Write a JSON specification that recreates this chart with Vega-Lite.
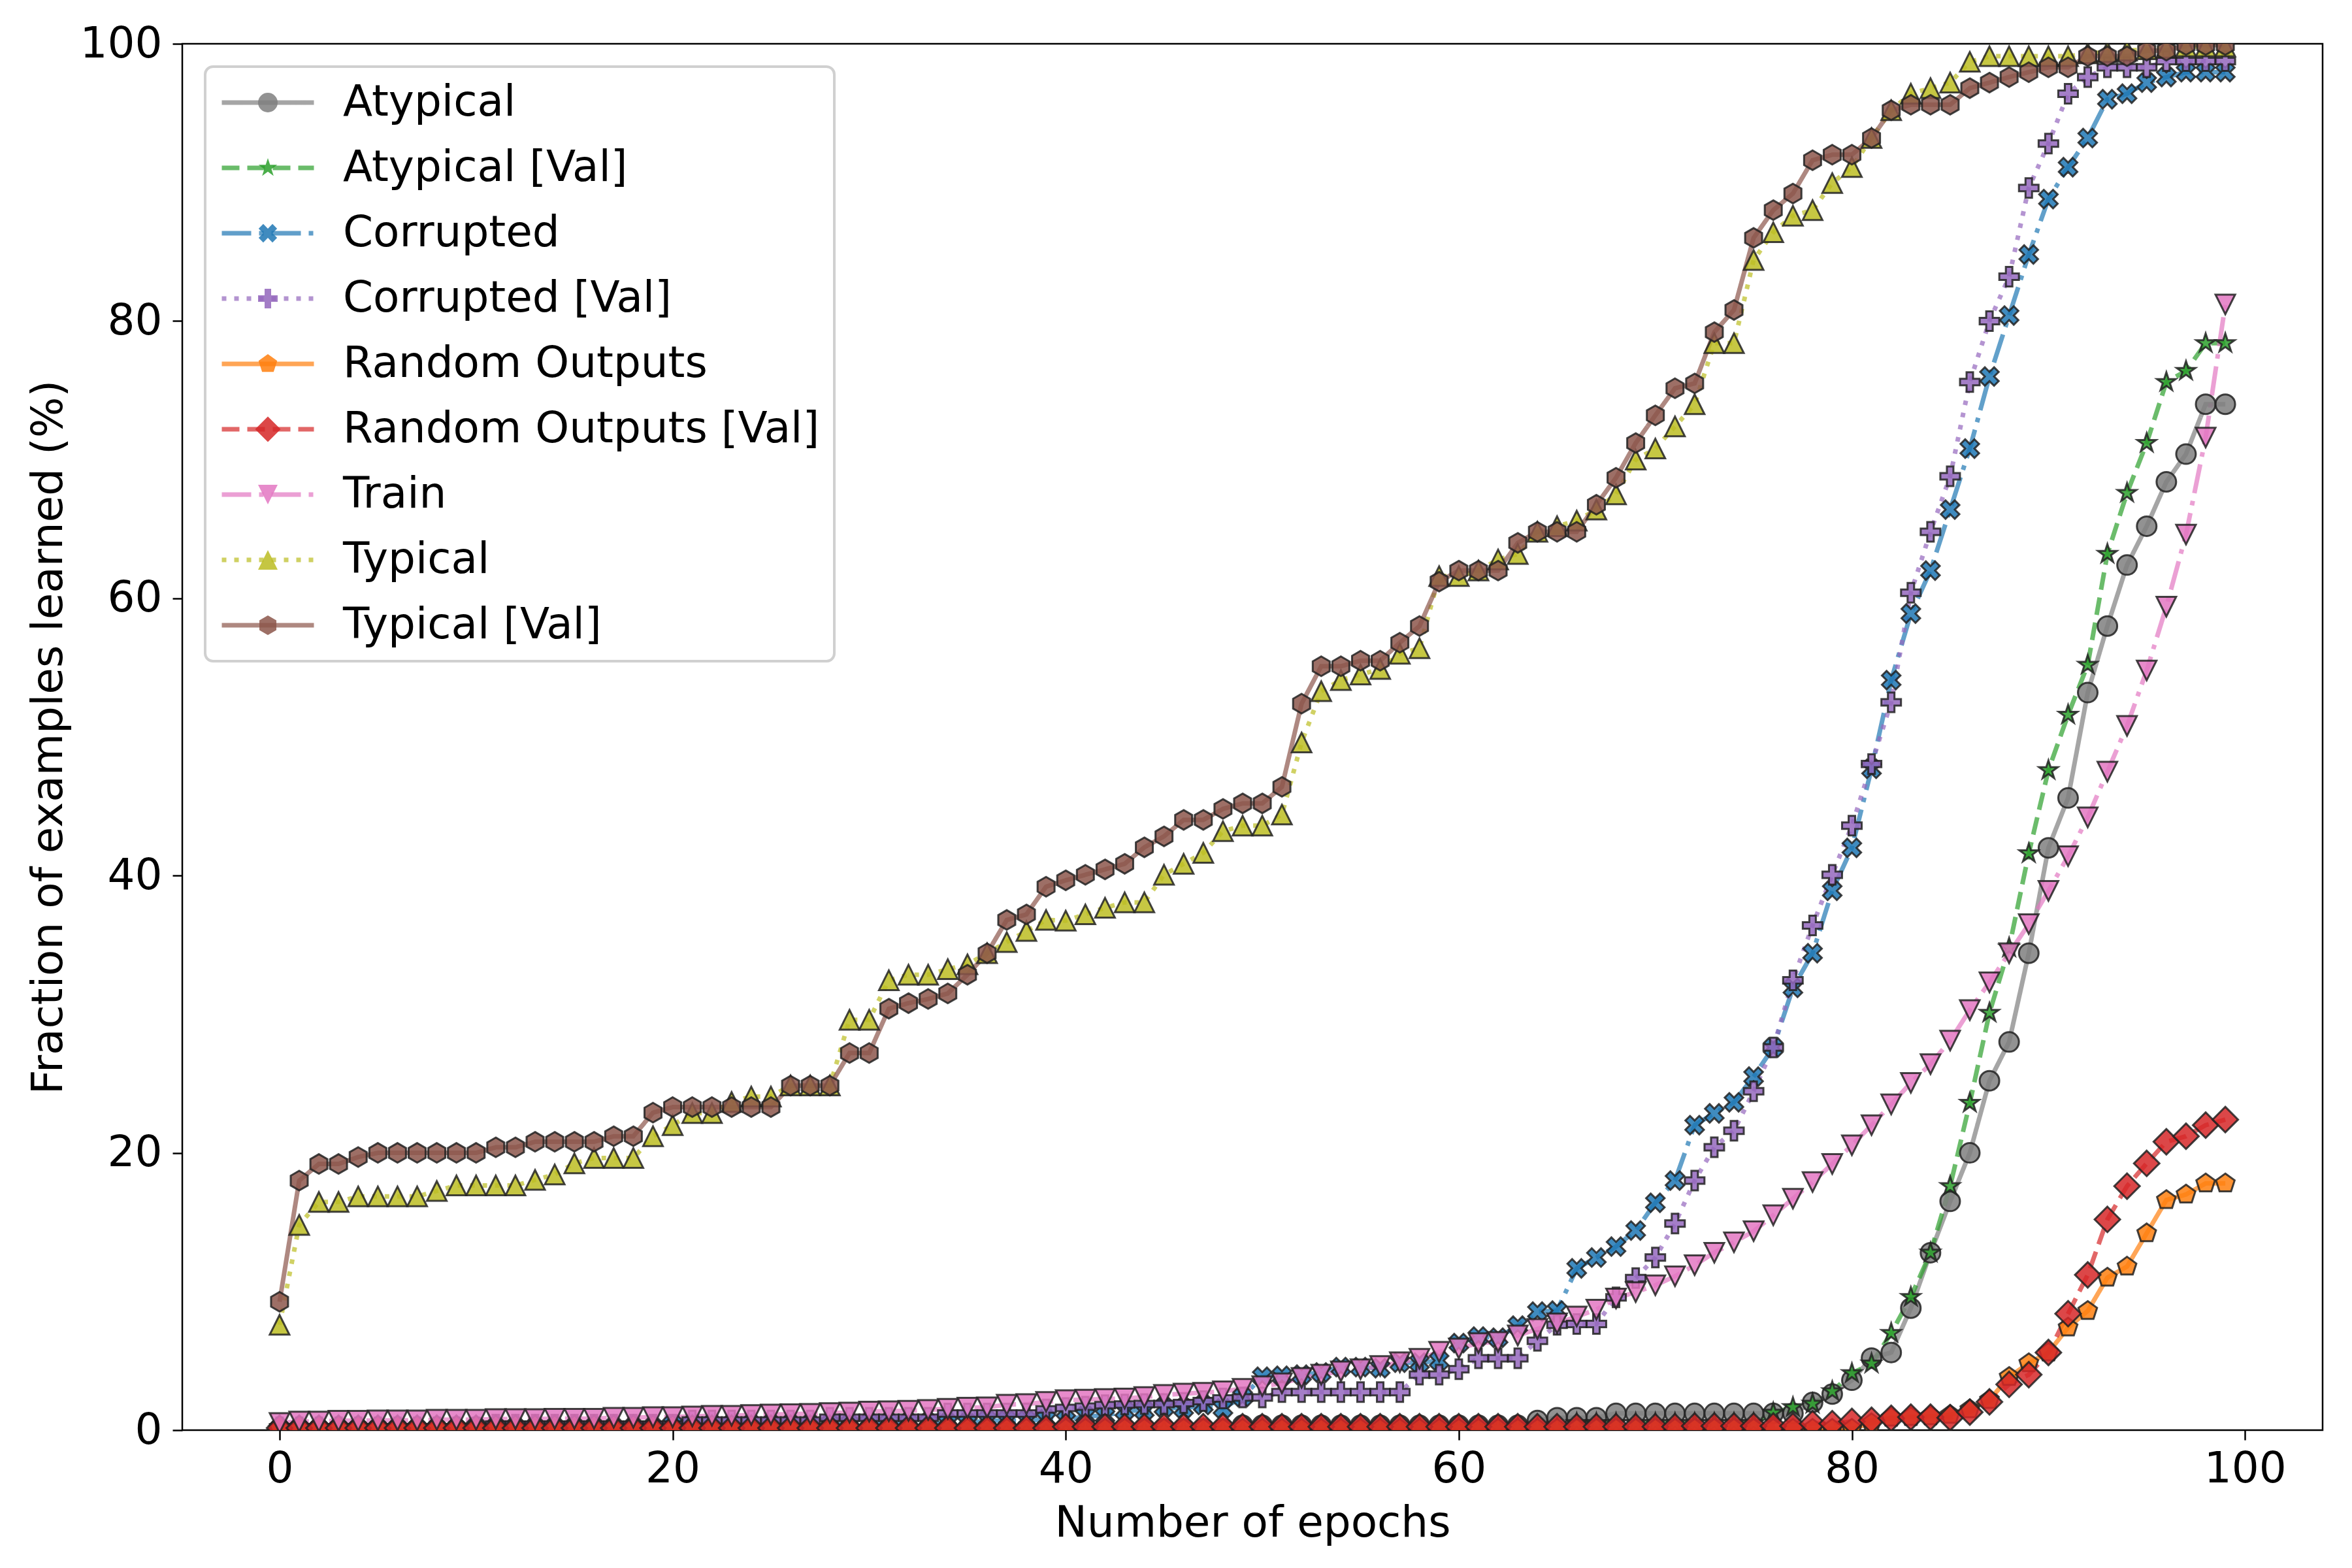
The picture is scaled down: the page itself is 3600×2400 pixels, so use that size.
{
  "$schema": "https://vega.github.io/schema/vega-lite/v6.json",
  "width": 3276,
  "height": 2122,
  "autosize": {"type": "none"},
  "padding": {"left": 279, "top": 67, "right": 45, "bottom": 211},
  "background": "white",
  "config": {
    "view": {"stroke": "black", "strokeWidth": 2.5},
    "font": "DejaVu Sans",
    "axis": {
      "domain": false, "grid": false, "tickColor": "black", "tickWidth": 2.5, "tickSize": 15,
      "labelFont": "DejaVu Sans", "labelFontSize": 66, "labelColor": "black",
      "titleFont": "DejaVu Sans", "titleFontSize": 66, "titleFontWeight": "normal", "titleColor": "black"
    }
  },
  "data": {
    "values": [
      {"s":"Atypical","e":0,"v":0.1},{"s":"Atypical","e":1,"v":0.1},{"s":"Atypical","e":2,"v":0.1},{"s":"Atypical","e":3,"v":0.1},{"s":"Atypical","e":4,"v":0.1},{"s":"Atypical","e":5,"v":0.1},{"s":"Atypical","e":6,"v":0.1},{"s":"Atypical","e":7,"v":0.1},{"s":"Atypical","e":8,"v":0.1},{"s":"Atypical","e":9,"v":0.1},
      {"s":"Atypical","e":10,"v":0.1},{"s":"Atypical","e":11,"v":0.1},{"s":"Atypical","e":12,"v":0.1},{"s":"Atypical","e":13,"v":0.1},{"s":"Atypical","e":14,"v":0.1},{"s":"Atypical","e":15,"v":0.1},{"s":"Atypical","e":16,"v":0.1},{"s":"Atypical","e":17,"v":0.1},{"s":"Atypical","e":18,"v":0.1},{"s":"Atypical","e":19,"v":0.1},
      {"s":"Atypical","e":20,"v":0.1},{"s":"Atypical","e":21,"v":0.1},{"s":"Atypical","e":22,"v":0.1},{"s":"Atypical","e":23,"v":0.1},{"s":"Atypical","e":24,"v":0.1},{"s":"Atypical","e":25,"v":0.1},{"s":"Atypical","e":26,"v":0.1},{"s":"Atypical","e":27,"v":0.1},{"s":"Atypical","e":28,"v":0.1},{"s":"Atypical","e":29,"v":0.1},
      {"s":"Atypical","e":30,"v":0.1},{"s":"Atypical","e":31,"v":0.1},{"s":"Atypical","e":32,"v":0.1},{"s":"Atypical","e":33,"v":0.1},{"s":"Atypical","e":34,"v":0.1},{"s":"Atypical","e":35,"v":0.1},{"s":"Atypical","e":36,"v":0.1},{"s":"Atypical","e":37,"v":0.1},{"s":"Atypical","e":38,"v":0.1},{"s":"Atypical","e":39,"v":0.1},
      {"s":"Atypical","e":40,"v":0.1},{"s":"Atypical","e":41,"v":0.1},{"s":"Atypical","e":42,"v":0.1},{"s":"Atypical","e":43,"v":0.1},{"s":"Atypical","e":44,"v":0.1},{"s":"Atypical","e":45,"v":0.1},{"s":"Atypical","e":46,"v":0.1},{"s":"Atypical","e":47,"v":0.1},{"s":"Atypical","e":48,"v":0.1},{"s":"Atypical","e":49,"v":0.35},
      {"s":"Atypical","e":50,"v":0.35},{"s":"Atypical","e":51,"v":0.35},{"s":"Atypical","e":52,"v":0.35},{"s":"Atypical","e":53,"v":0.35},{"s":"Atypical","e":54,"v":0.35},{"s":"Atypical","e":55,"v":0.35},{"s":"Atypical","e":56,"v":0.35},{"s":"Atypical","e":57,"v":0.35},{"s":"Atypical","e":58,"v":0.35},{"s":"Atypical","e":59,"v":0.35},
      {"s":"Atypical","e":60,"v":0.35},{"s":"Atypical","e":61,"v":0.35},{"s":"Atypical","e":62,"v":0.35},{"s":"Atypical","e":63,"v":0.35},{"s":"Atypical","e":64,"v":0.69},{"s":"Atypical","e":65,"v":0.9},{"s":"Atypical","e":66,"v":0.9},{"s":"Atypical","e":67,"v":0.9},{"s":"Atypical","e":68,"v":1.21},{"s":"Atypical","e":69,"v":1.21},
      {"s":"Atypical","e":70,"v":1.21},{"s":"Atypical","e":71,"v":1.21},{"s":"Atypical","e":72,"v":1.21},{"s":"Atypical","e":73,"v":1.21},{"s":"Atypical","e":74,"v":1.21},{"s":"Atypical","e":75,"v":1.21},{"s":"Atypical","e":76,"v":1.21},{"s":"Atypical","e":77,"v":1.21},{"s":"Atypical","e":78,"v":2.0},{"s":"Atypical","e":79,"v":2.6},
      {"s":"Atypical","e":80,"v":3.6},{"s":"Atypical","e":81,"v":5.2},{"s":"Atypical","e":82,"v":5.6},{"s":"Atypical","e":83,"v":8.8},{"s":"Atypical","e":84,"v":12.8},{"s":"Atypical","e":85,"v":16.5},{"s":"Atypical","e":86,"v":20.0},{"s":"Atypical","e":87,"v":25.2},{"s":"Atypical","e":88,"v":28.0},{"s":"Atypical","e":89,"v":34.4},
      {"s":"Atypical","e":90,"v":42.0},{"s":"Atypical","e":91,"v":45.6},{"s":"Atypical","e":92,"v":53.2},{"s":"Atypical","e":93,"v":58.0},{"s":"Atypical","e":94,"v":62.4},{"s":"Atypical","e":95,"v":65.2},{"s":"Atypical","e":96,"v":68.4},{"s":"Atypical","e":97,"v":70.4},{"s":"Atypical","e":98,"v":74.0},{"s":"Atypical","e":99,"v":74.0},

      {"s":"Atypical [Val]","e":0,"v":0.05},{"s":"Atypical [Val]","e":1,"v":0.05},{"s":"Atypical [Val]","e":2,"v":0.05},{"s":"Atypical [Val]","e":3,"v":0.05},{"s":"Atypical [Val]","e":4,"v":0.05},{"s":"Atypical [Val]","e":5,"v":0.05},{"s":"Atypical [Val]","e":6,"v":0.05},{"s":"Atypical [Val]","e":7,"v":0.05},{"s":"Atypical [Val]","e":8,"v":0.05},{"s":"Atypical [Val]","e":9,"v":0.05},
      {"s":"Atypical [Val]","e":10,"v":0.05},{"s":"Atypical [Val]","e":11,"v":0.05},{"s":"Atypical [Val]","e":12,"v":0.05},{"s":"Atypical [Val]","e":13,"v":0.05},{"s":"Atypical [Val]","e":14,"v":0.05},{"s":"Atypical [Val]","e":15,"v":0.05},{"s":"Atypical [Val]","e":16,"v":0.05},{"s":"Atypical [Val]","e":17,"v":0.05},{"s":"Atypical [Val]","e":18,"v":0.05},{"s":"Atypical [Val]","e":19,"v":0.05},
      {"s":"Atypical [Val]","e":20,"v":0.05},{"s":"Atypical [Val]","e":21,"v":0.05},{"s":"Atypical [Val]","e":22,"v":0.05},{"s":"Atypical [Val]","e":23,"v":0.05},{"s":"Atypical [Val]","e":24,"v":0.05},{"s":"Atypical [Val]","e":25,"v":0.05},{"s":"Atypical [Val]","e":26,"v":0.05},{"s":"Atypical [Val]","e":27,"v":0.05},{"s":"Atypical [Val]","e":28,"v":0.05},{"s":"Atypical [Val]","e":29,"v":0.05},
      {"s":"Atypical [Val]","e":30,"v":0.05},{"s":"Atypical [Val]","e":31,"v":0.05},{"s":"Atypical [Val]","e":32,"v":0.05},{"s":"Atypical [Val]","e":33,"v":0.05},{"s":"Atypical [Val]","e":34,"v":0.05},{"s":"Atypical [Val]","e":35,"v":0.05},{"s":"Atypical [Val]","e":36,"v":0.05},{"s":"Atypical [Val]","e":37,"v":0.05},{"s":"Atypical [Val]","e":38,"v":0.05},{"s":"Atypical [Val]","e":39,"v":0.05},
      {"s":"Atypical [Val]","e":40,"v":0.05},{"s":"Atypical [Val]","e":41,"v":0.05},{"s":"Atypical [Val]","e":42,"v":0.05},{"s":"Atypical [Val]","e":43,"v":0.05},{"s":"Atypical [Val]","e":44,"v":0.05},{"s":"Atypical [Val]","e":45,"v":0.05},{"s":"Atypical [Val]","e":46,"v":0.05},{"s":"Atypical [Val]","e":47,"v":0.05},{"s":"Atypical [Val]","e":48,"v":0.05},{"s":"Atypical [Val]","e":49,"v":0.05},
      {"s":"Atypical [Val]","e":50,"v":0.2},{"s":"Atypical [Val]","e":51,"v":0.2},{"s":"Atypical [Val]","e":52,"v":0.2},{"s":"Atypical [Val]","e":53,"v":0.2},{"s":"Atypical [Val]","e":54,"v":0.2},{"s":"Atypical [Val]","e":55,"v":0.2},{"s":"Atypical [Val]","e":56,"v":0.2},{"s":"Atypical [Val]","e":57,"v":0.2},{"s":"Atypical [Val]","e":58,"v":0.2},{"s":"Atypical [Val]","e":59,"v":0.2},
      {"s":"Atypical [Val]","e":60,"v":0.2},{"s":"Atypical [Val]","e":61,"v":0.2},{"s":"Atypical [Val]","e":62,"v":0.2},{"s":"Atypical [Val]","e":63,"v":0.2},{"s":"Atypical [Val]","e":64,"v":0.2},{"s":"Atypical [Val]","e":65,"v":0.2},{"s":"Atypical [Val]","e":66,"v":0.5},{"s":"Atypical [Val]","e":67,"v":0.5},{"s":"Atypical [Val]","e":68,"v":0.5},{"s":"Atypical [Val]","e":69,"v":0.5},
      {"s":"Atypical [Val]","e":70,"v":0.5},{"s":"Atypical [Val]","e":71,"v":0.5},{"s":"Atypical [Val]","e":72,"v":0.5},{"s":"Atypical [Val]","e":73,"v":0.5},{"s":"Atypical [Val]","e":74,"v":0.5},{"s":"Atypical [Val]","e":75,"v":0.5},{"s":"Atypical [Val]","e":76,"v":1.25},{"s":"Atypical [Val]","e":77,"v":1.65},{"s":"Atypical [Val]","e":78,"v":1.9},{"s":"Atypical [Val]","e":79,"v":2.8},
      {"s":"Atypical [Val]","e":80,"v":4.1},{"s":"Atypical [Val]","e":81,"v":4.8},{"s":"Atypical [Val]","e":82,"v":7.0},{"s":"Atypical [Val]","e":83,"v":9.6},{"s":"Atypical [Val]","e":84,"v":12.8},{"s":"Atypical [Val]","e":85,"v":17.6},{"s":"Atypical [Val]","e":86,"v":23.6},{"s":"Atypical [Val]","e":87,"v":30.1},{"s":"Atypical [Val]","e":88,"v":34.8},{"s":"Atypical [Val]","e":89,"v":41.6},
      {"s":"Atypical [Val]","e":90,"v":47.6},{"s":"Atypical [Val]","e":91,"v":51.6},{"s":"Atypical [Val]","e":92,"v":55.2},{"s":"Atypical [Val]","e":93,"v":63.2},{"s":"Atypical [Val]","e":94,"v":67.6},{"s":"Atypical [Val]","e":95,"v":71.2},{"s":"Atypical [Val]","e":96,"v":75.6},{"s":"Atypical [Val]","e":97,"v":76.4},{"s":"Atypical [Val]","e":98,"v":78.4},{"s":"Atypical [Val]","e":99,"v":78.4},

      {"s":"Corrupted","e":0,"v":0.1},{"s":"Corrupted","e":1,"v":0.1},{"s":"Corrupted","e":2,"v":0.1},{"s":"Corrupted","e":3,"v":0.1},{"s":"Corrupted","e":4,"v":0.1},{"s":"Corrupted","e":5,"v":0.1},{"s":"Corrupted","e":6,"v":0.1},{"s":"Corrupted","e":7,"v":0.1},{"s":"Corrupted","e":8,"v":0.1},{"s":"Corrupted","e":9,"v":0.1},
      {"s":"Corrupted","e":10,"v":0.2},{"s":"Corrupted","e":11,"v":0.2},{"s":"Corrupted","e":12,"v":0.2},{"s":"Corrupted","e":13,"v":0.2},{"s":"Corrupted","e":14,"v":0.2},{"s":"Corrupted","e":15,"v":0.2},{"s":"Corrupted","e":16,"v":0.2},{"s":"Corrupted","e":17,"v":0.2},{"s":"Corrupted","e":18,"v":0.2},{"s":"Corrupted","e":19,"v":0.2},
      {"s":"Corrupted","e":20,"v":0.4},{"s":"Corrupted","e":21,"v":0.4},{"s":"Corrupted","e":22,"v":0.4},{"s":"Corrupted","e":23,"v":0.4},{"s":"Corrupted","e":24,"v":0.4},{"s":"Corrupted","e":25,"v":0.4},{"s":"Corrupted","e":26,"v":0.4},{"s":"Corrupted","e":27,"v":0.4},{"s":"Corrupted","e":28,"v":0.4},{"s":"Corrupted","e":29,"v":0.4},
      {"s":"Corrupted","e":30,"v":0.5},{"s":"Corrupted","e":31,"v":0.5},{"s":"Corrupted","e":32,"v":0.5},{"s":"Corrupted","e":33,"v":0.5},{"s":"Corrupted","e":34,"v":0.5},{"s":"Corrupted","e":35,"v":0.5},{"s":"Corrupted","e":36,"v":0.7},{"s":"Corrupted","e":37,"v":0.7},{"s":"Corrupted","e":38,"v":0.7},{"s":"Corrupted","e":39,"v":0.78},
      {"s":"Corrupted","e":40,"v":0.71},{"s":"Corrupted","e":41,"v":1.02},{"s":"Corrupted","e":42,"v":1.02},{"s":"Corrupted","e":43,"v":1.41},{"s":"Corrupted","e":44,"v":1.41},{"s":"Corrupted","e":45,"v":1.65},{"s":"Corrupted","e":46,"v":1.57},{"s":"Corrupted","e":47,"v":1.81},{"s":"Corrupted","e":48,"v":1.57},{"s":"Corrupted","e":49,"v":2.39},
      {"s":"Corrupted","e":50,"v":3.85},{"s":"Corrupted","e":51,"v":3.92},{"s":"Corrupted","e":52,"v":4.0},{"s":"Corrupted","e":53,"v":4.16},{"s":"Corrupted","e":54,"v":4.55},{"s":"Corrupted","e":55,"v":4.55},{"s":"Corrupted","e":56,"v":4.47},{"s":"Corrupted","e":57,"v":4.87},{"s":"Corrupted","e":58,"v":4.87},{"s":"Corrupted","e":59,"v":5.02},
      {"s":"Corrupted","e":60,"v":6.28},{"s":"Corrupted","e":61,"v":6.75},{"s":"Corrupted","e":62,"v":6.67},{"s":"Corrupted","e":63,"v":7.54},{"s":"Corrupted","e":64,"v":8.55},{"s":"Corrupted","e":65,"v":8.62},{"s":"Corrupted","e":66,"v":11.67},{"s":"Corrupted","e":67,"v":12.45},{"s":"Corrupted","e":68,"v":13.24},{"s":"Corrupted","e":69,"v":14.4},
      {"s":"Corrupted","e":70,"v":16.4},{"s":"Corrupted","e":71,"v":18.0},{"s":"Corrupted","e":72,"v":22.0},{"s":"Corrupted","e":73,"v":22.85},{"s":"Corrupted","e":74,"v":23.65},{"s":"Corrupted","e":75,"v":25.5},{"s":"Corrupted","e":76,"v":27.6},{"s":"Corrupted","e":77,"v":31.9},{"s":"Corrupted","e":78,"v":34.4},{"s":"Corrupted","e":79,"v":38.9},
      {"s":"Corrupted","e":80,"v":42.0},{"s":"Corrupted","e":81,"v":47.7},{"s":"Corrupted","e":82,"v":54.1},{"s":"Corrupted","e":83,"v":58.9},{"s":"Corrupted","e":84,"v":62.0},{"s":"Corrupted","e":85,"v":66.4},{"s":"Corrupted","e":86,"v":70.8},{"s":"Corrupted","e":87,"v":76.0},{"s":"Corrupted","e":88,"v":80.4},{"s":"Corrupted","e":89,"v":84.8},
      {"s":"Corrupted","e":90,"v":88.8},{"s":"Corrupted","e":91,"v":91.1},{"s":"Corrupted","e":92,"v":93.2},{"s":"Corrupted","e":93,"v":96.0},{"s":"Corrupted","e":94,"v":96.4},{"s":"Corrupted","e":95,"v":97.2},{"s":"Corrupted","e":96,"v":97.6},{"s":"Corrupted","e":97,"v":97.95},{"s":"Corrupted","e":98,"v":97.95},{"s":"Corrupted","e":99,"v":97.95},

      {"s":"Corrupted [Val]","e":0,"v":0.2},{"s":"Corrupted [Val]","e":1,"v":0.2},{"s":"Corrupted [Val]","e":2,"v":0.2},{"s":"Corrupted [Val]","e":3,"v":0.2},{"s":"Corrupted [Val]","e":4,"v":0.2},{"s":"Corrupted [Val]","e":5,"v":0.2},{"s":"Corrupted [Val]","e":6,"v":0.2},{"s":"Corrupted [Val]","e":7,"v":0.2},{"s":"Corrupted [Val]","e":8,"v":0.2},{"s":"Corrupted [Val]","e":9,"v":0.2},
      {"s":"Corrupted [Val]","e":10,"v":0.2},{"s":"Corrupted [Val]","e":11,"v":0.4},{"s":"Corrupted [Val]","e":12,"v":0.4},{"s":"Corrupted [Val]","e":13,"v":0.4},{"s":"Corrupted [Val]","e":14,"v":0.4},{"s":"Corrupted [Val]","e":15,"v":0.4},{"s":"Corrupted [Val]","e":16,"v":0.4},{"s":"Corrupted [Val]","e":17,"v":0.4},{"s":"Corrupted [Val]","e":18,"v":0.4},{"s":"Corrupted [Val]","e":19,"v":0.4},
      {"s":"Corrupted [Val]","e":20,"v":0.4},{"s":"Corrupted [Val]","e":21,"v":0.7},{"s":"Corrupted [Val]","e":22,"v":0.7},{"s":"Corrupted [Val]","e":23,"v":0.7},{"s":"Corrupted [Val]","e":24,"v":0.7},{"s":"Corrupted [Val]","e":25,"v":0.7},{"s":"Corrupted [Val]","e":26,"v":0.7},{"s":"Corrupted [Val]","e":27,"v":0.7},{"s":"Corrupted [Val]","e":28,"v":0.9},{"s":"Corrupted [Val]","e":29,"v":0.9},
      {"s":"Corrupted [Val]","e":30,"v":0.9},{"s":"Corrupted [Val]","e":31,"v":0.9},{"s":"Corrupted [Val]","e":32,"v":0.9},{"s":"Corrupted [Val]","e":33,"v":0.9},{"s":"Corrupted [Val]","e":34,"v":1.2},{"s":"Corrupted [Val]","e":35,"v":1.2},{"s":"Corrupted [Val]","e":36,"v":1.2},{"s":"Corrupted [Val]","e":37,"v":1.2},{"s":"Corrupted [Val]","e":38,"v":1.2},{"s":"Corrupted [Val]","e":39,"v":1.5},
      {"s":"Corrupted [Val]","e":40,"v":1.6},{"s":"Corrupted [Val]","e":41,"v":1.7},{"s":"Corrupted [Val]","e":42,"v":1.8},{"s":"Corrupted [Val]","e":43,"v":1.85},{"s":"Corrupted [Val]","e":44,"v":1.88},{"s":"Corrupted [Val]","e":45,"v":1.88},{"s":"Corrupted [Val]","e":46,"v":1.96},{"s":"Corrupted [Val]","e":47,"v":2.1},{"s":"Corrupted [Val]","e":48,"v":2.28},{"s":"Corrupted [Val]","e":49,"v":2.36},
      {"s":"Corrupted [Val]","e":50,"v":2.36},{"s":"Corrupted [Val]","e":51,"v":2.75},{"s":"Corrupted [Val]","e":52,"v":2.75},{"s":"Corrupted [Val]","e":53,"v":2.75},{"s":"Corrupted [Val]","e":54,"v":2.75},{"s":"Corrupted [Val]","e":55,"v":2.75},{"s":"Corrupted [Val]","e":56,"v":2.75},{"s":"Corrupted [Val]","e":57,"v":2.75},{"s":"Corrupted [Val]","e":58,"v":4.0},{"s":"Corrupted [Val]","e":59,"v":4.0},
      {"s":"Corrupted [Val]","e":60,"v":4.4},{"s":"Corrupted [Val]","e":61,"v":5.18},{"s":"Corrupted [Val]","e":62,"v":5.18},{"s":"Corrupted [Val]","e":63,"v":5.18},{"s":"Corrupted [Val]","e":64,"v":6.44},{"s":"Corrupted [Val]","e":65,"v":7.6},{"s":"Corrupted [Val]","e":66,"v":7.66},{"s":"Corrupted [Val]","e":67,"v":7.66},{"s":"Corrupted [Val]","e":68,"v":9.58},{"s":"Corrupted [Val]","e":69,"v":10.97},
      {"s":"Corrupted [Val]","e":70,"v":12.45},{"s":"Corrupted [Val]","e":71,"v":14.9},{"s":"Corrupted [Val]","e":72,"v":18.0},{"s":"Corrupted [Val]","e":73,"v":20.4},{"s":"Corrupted [Val]","e":74,"v":21.6},{"s":"Corrupted [Val]","e":75,"v":24.45},{"s":"Corrupted [Val]","e":76,"v":27.6},{"s":"Corrupted [Val]","e":77,"v":32.45},{"s":"Corrupted [Val]","e":78,"v":36.4},{"s":"Corrupted [Val]","e":79,"v":40.06},
      {"s":"Corrupted [Val]","e":80,"v":43.6},{"s":"Corrupted [Val]","e":81,"v":48.05},{"s":"Corrupted [Val]","e":82,"v":52.5},{"s":"Corrupted [Val]","e":83,"v":60.4},{"s":"Corrupted [Val]","e":84,"v":64.8},{"s":"Corrupted [Val]","e":85,"v":68.8},{"s":"Corrupted [Val]","e":86,"v":75.6},{"s":"Corrupted [Val]","e":87,"v":80.0},{"s":"Corrupted [Val]","e":88,"v":83.2},{"s":"Corrupted [Val]","e":89,"v":89.6},
      {"s":"Corrupted [Val]","e":90,"v":92.8},{"s":"Corrupted [Val]","e":91,"v":96.4},{"s":"Corrupted [Val]","e":92,"v":97.6},{"s":"Corrupted [Val]","e":93,"v":98.3},{"s":"Corrupted [Val]","e":94,"v":98.3},{"s":"Corrupted [Val]","e":95,"v":98.3},{"s":"Corrupted [Val]","e":96,"v":98.75},{"s":"Corrupted [Val]","e":97,"v":98.75},{"s":"Corrupted [Val]","e":98,"v":98.75},{"s":"Corrupted [Val]","e":99,"v":98.75},

      {"s":"Random Outputs","e":0,"v":0.1},{"s":"Random Outputs","e":1,"v":0.1},{"s":"Random Outputs","e":2,"v":0.1},{"s":"Random Outputs","e":3,"v":0.1},{"s":"Random Outputs","e":4,"v":0.1},{"s":"Random Outputs","e":5,"v":0.1},{"s":"Random Outputs","e":6,"v":0.1},{"s":"Random Outputs","e":7,"v":0.1},{"s":"Random Outputs","e":8,"v":0.1},{"s":"Random Outputs","e":9,"v":0.1},
      {"s":"Random Outputs","e":10,"v":0.1},{"s":"Random Outputs","e":11,"v":0.1},{"s":"Random Outputs","e":12,"v":0.1},{"s":"Random Outputs","e":13,"v":0.1},{"s":"Random Outputs","e":14,"v":0.1},{"s":"Random Outputs","e":15,"v":0.1},{"s":"Random Outputs","e":16,"v":0.1},{"s":"Random Outputs","e":17,"v":0.1},{"s":"Random Outputs","e":18,"v":0.1},{"s":"Random Outputs","e":19,"v":0.1},
      {"s":"Random Outputs","e":20,"v":0.1},{"s":"Random Outputs","e":21,"v":0.1},{"s":"Random Outputs","e":22,"v":0.1},{"s":"Random Outputs","e":23,"v":0.1},{"s":"Random Outputs","e":24,"v":0.1},{"s":"Random Outputs","e":25,"v":0.1},{"s":"Random Outputs","e":26,"v":0.1},{"s":"Random Outputs","e":27,"v":0.1},{"s":"Random Outputs","e":28,"v":0.1},{"s":"Random Outputs","e":29,"v":0.1},
      {"s":"Random Outputs","e":30,"v":0.1},{"s":"Random Outputs","e":31,"v":0.1},{"s":"Random Outputs","e":32,"v":0.1},{"s":"Random Outputs","e":33,"v":0.1},{"s":"Random Outputs","e":34,"v":0.1},{"s":"Random Outputs","e":35,"v":0.1},{"s":"Random Outputs","e":36,"v":0.1},{"s":"Random Outputs","e":37,"v":0.1},{"s":"Random Outputs","e":38,"v":0.1},{"s":"Random Outputs","e":39,"v":0.1},
      {"s":"Random Outputs","e":40,"v":0.1},{"s":"Random Outputs","e":41,"v":0.1},{"s":"Random Outputs","e":42,"v":0.1},{"s":"Random Outputs","e":43,"v":0.1},{"s":"Random Outputs","e":44,"v":0.1},{"s":"Random Outputs","e":45,"v":0.1},{"s":"Random Outputs","e":46,"v":0.1},{"s":"Random Outputs","e":47,"v":0.1},{"s":"Random Outputs","e":48,"v":0.1},{"s":"Random Outputs","e":49,"v":0.1},
      {"s":"Random Outputs","e":50,"v":0.1},{"s":"Random Outputs","e":51,"v":0.1},{"s":"Random Outputs","e":52,"v":0.1},{"s":"Random Outputs","e":53,"v":0.1},{"s":"Random Outputs","e":54,"v":0.1},{"s":"Random Outputs","e":55,"v":0.1},{"s":"Random Outputs","e":56,"v":0.1},{"s":"Random Outputs","e":57,"v":0.1},{"s":"Random Outputs","e":58,"v":0.1},{"s":"Random Outputs","e":59,"v":0.1},
      {"s":"Random Outputs","e":60,"v":0.1},{"s":"Random Outputs","e":61,"v":0.1},{"s":"Random Outputs","e":62,"v":0.1},{"s":"Random Outputs","e":63,"v":0.1},{"s":"Random Outputs","e":64,"v":0.1},{"s":"Random Outputs","e":65,"v":0.1},{"s":"Random Outputs","e":66,"v":0.1},{"s":"Random Outputs","e":67,"v":0.1},{"s":"Random Outputs","e":68,"v":0.1},{"s":"Random Outputs","e":69,"v":0.1},
      {"s":"Random Outputs","e":70,"v":0.1},{"s":"Random Outputs","e":71,"v":0.1},{"s":"Random Outputs","e":72,"v":0.1},{"s":"Random Outputs","e":73,"v":0.1},{"s":"Random Outputs","e":74,"v":0.1},{"s":"Random Outputs","e":75,"v":0.1},{"s":"Random Outputs","e":76,"v":0.1},{"s":"Random Outputs","e":77,"v":0.1},{"s":"Random Outputs","e":78,"v":0.1},{"s":"Random Outputs","e":79,"v":0.1},
      {"s":"Random Outputs","e":80,"v":0.1},{"s":"Random Outputs","e":81,"v":0.5},{"s":"Random Outputs","e":82,"v":0.9},{"s":"Random Outputs","e":83,"v":0.95},{"s":"Random Outputs","e":84,"v":1.0},{"s":"Random Outputs","e":85,"v":1.1},{"s":"Random Outputs","e":86,"v":1.5},{"s":"Random Outputs","e":87,"v":2.18},{"s":"Random Outputs","e":88,"v":3.84},{"s":"Random Outputs","e":89,"v":4.83},
      {"s":"Random Outputs","e":90,"v":5.6},{"s":"Random Outputs","e":91,"v":7.4},{"s":"Random Outputs","e":92,"v":8.6},{"s":"Random Outputs","e":93,"v":11.0},{"s":"Random Outputs","e":94,"v":11.8},{"s":"Random Outputs","e":95,"v":14.2},{"s":"Random Outputs","e":96,"v":16.6},{"s":"Random Outputs","e":97,"v":17.0},{"s":"Random Outputs","e":98,"v":17.8},{"s":"Random Outputs","e":99,"v":17.8},

      {"s":"Random Outputs [Val]","e":0,"v":0.15},{"s":"Random Outputs [Val]","e":1,"v":0.15},{"s":"Random Outputs [Val]","e":2,"v":0.15},{"s":"Random Outputs [Val]","e":3,"v":0.15},{"s":"Random Outputs [Val]","e":4,"v":0.15},{"s":"Random Outputs [Val]","e":5,"v":0.15},{"s":"Random Outputs [Val]","e":6,"v":0.15},{"s":"Random Outputs [Val]","e":7,"v":0.15},{"s":"Random Outputs [Val]","e":8,"v":0.15},{"s":"Random Outputs [Val]","e":9,"v":0.15},
      {"s":"Random Outputs [Val]","e":10,"v":0.15},{"s":"Random Outputs [Val]","e":11,"v":0.15},{"s":"Random Outputs [Val]","e":12,"v":0.15},{"s":"Random Outputs [Val]","e":13,"v":0.15},{"s":"Random Outputs [Val]","e":14,"v":0.15},{"s":"Random Outputs [Val]","e":15,"v":0.15},{"s":"Random Outputs [Val]","e":16,"v":0.15},{"s":"Random Outputs [Val]","e":17,"v":0.15},{"s":"Random Outputs [Val]","e":18,"v":0.15},{"s":"Random Outputs [Val]","e":19,"v":0.15},
      {"s":"Random Outputs [Val]","e":20,"v":0.15},{"s":"Random Outputs [Val]","e":21,"v":0.15},{"s":"Random Outputs [Val]","e":22,"v":0.15},{"s":"Random Outputs [Val]","e":23,"v":0.15},{"s":"Random Outputs [Val]","e":24,"v":0.15},{"s":"Random Outputs [Val]","e":25,"v":0.15},{"s":"Random Outputs [Val]","e":26,"v":0.15},{"s":"Random Outputs [Val]","e":27,"v":0.15},{"s":"Random Outputs [Val]","e":28,"v":0.15},{"s":"Random Outputs [Val]","e":29,"v":0.15},
      {"s":"Random Outputs [Val]","e":30,"v":0.15},{"s":"Random Outputs [Val]","e":31,"v":0.15},{"s":"Random Outputs [Val]","e":32,"v":0.15},{"s":"Random Outputs [Val]","e":33,"v":0.15},{"s":"Random Outputs [Val]","e":34,"v":0.15},{"s":"Random Outputs [Val]","e":35,"v":0.15},{"s":"Random Outputs [Val]","e":36,"v":0.15},{"s":"Random Outputs [Val]","e":37,"v":0.15},{"s":"Random Outputs [Val]","e":38,"v":0.15},{"s":"Random Outputs [Val]","e":39,"v":0.15},
      {"s":"Random Outputs [Val]","e":40,"v":0.25},{"s":"Random Outputs [Val]","e":41,"v":0.25},{"s":"Random Outputs [Val]","e":42,"v":0.25},{"s":"Random Outputs [Val]","e":43,"v":0.25},{"s":"Random Outputs [Val]","e":44,"v":0.25},{"s":"Random Outputs [Val]","e":45,"v":0.25},{"s":"Random Outputs [Val]","e":46,"v":0.25},{"s":"Random Outputs [Val]","e":47,"v":0.25},{"s":"Random Outputs [Val]","e":48,"v":0.25},{"s":"Random Outputs [Val]","e":49,"v":0.25},
      {"s":"Random Outputs [Val]","e":50,"v":0.25},{"s":"Random Outputs [Val]","e":51,"v":0.25},{"s":"Random Outputs [Val]","e":52,"v":0.25},{"s":"Random Outputs [Val]","e":53,"v":0.25},{"s":"Random Outputs [Val]","e":54,"v":0.25},{"s":"Random Outputs [Val]","e":55,"v":0.25},{"s":"Random Outputs [Val]","e":56,"v":0.25},{"s":"Random Outputs [Val]","e":57,"v":0.25},{"s":"Random Outputs [Val]","e":58,"v":0.25},{"s":"Random Outputs [Val]","e":59,"v":0.25},
      {"s":"Random Outputs [Val]","e":60,"v":0.25},{"s":"Random Outputs [Val]","e":61,"v":0.25},{"s":"Random Outputs [Val]","e":62,"v":0.25},{"s":"Random Outputs [Val]","e":63,"v":0.25},{"s":"Random Outputs [Val]","e":64,"v":0.25},{"s":"Random Outputs [Val]","e":65,"v":0.25},{"s":"Random Outputs [Val]","e":66,"v":0.25},{"s":"Random Outputs [Val]","e":67,"v":0.25},{"s":"Random Outputs [Val]","e":68,"v":0.25},{"s":"Random Outputs [Val]","e":69,"v":0.25},
      {"s":"Random Outputs [Val]","e":70,"v":0.25},{"s":"Random Outputs [Val]","e":71,"v":0.25},{"s":"Random Outputs [Val]","e":72,"v":0.3},{"s":"Random Outputs [Val]","e":73,"v":0.3},{"s":"Random Outputs [Val]","e":74,"v":0.3},{"s":"Random Outputs [Val]","e":75,"v":0.3},{"s":"Random Outputs [Val]","e":76,"v":0.3},{"s":"Random Outputs [Val]","e":77,"v":0.3},{"s":"Random Outputs [Val]","e":78,"v":0.47},{"s":"Random Outputs [Val]","e":79,"v":0.47},
      {"s":"Random Outputs [Val]","e":80,"v":0.63},{"s":"Random Outputs [Val]","e":81,"v":0.71},{"s":"Random Outputs [Val]","e":82,"v":0.86},{"s":"Random Outputs [Val]","e":83,"v":0.94},{"s":"Random Outputs [Val]","e":84,"v":0.94},{"s":"Random Outputs [Val]","e":85,"v":0.9},{"s":"Random Outputs [Val]","e":86,"v":1.3},{"s":"Random Outputs [Val]","e":87,"v":2.04},{"s":"Random Outputs [Val]","e":88,"v":3.3},{"s":"Random Outputs [Val]","e":89,"v":4.0},
      {"s":"Random Outputs [Val]","e":90,"v":5.6},{"s":"Random Outputs [Val]","e":91,"v":8.4},{"s":"Random Outputs [Val]","e":92,"v":11.2},{"s":"Random Outputs [Val]","e":93,"v":15.2},{"s":"Random Outputs [Val]","e":94,"v":17.6},{"s":"Random Outputs [Val]","e":95,"v":19.24},{"s":"Random Outputs [Val]","e":96,"v":20.8},{"s":"Random Outputs [Val]","e":97,"v":21.2},{"s":"Random Outputs [Val]","e":98,"v":22.0},{"s":"Random Outputs [Val]","e":99,"v":22.4},

      {"s":"Train","e":0,"v":0.52},{"s":"Train","e":1,"v":0.63},{"s":"Train","e":2,"v":0.63},{"s":"Train","e":3,"v":0.68},{"s":"Train","e":4,"v":0.68},{"s":"Train","e":5,"v":0.71},{"s":"Train","e":6,"v":0.71},{"s":"Train","e":7,"v":0.71},{"s":"Train","e":8,"v":0.75},{"s":"Train","e":9,"v":0.75},
      {"s":"Train","e":10,"v":0.75},{"s":"Train","e":11,"v":0.8},{"s":"Train","e":12,"v":0.8},{"s":"Train","e":13,"v":0.8},{"s":"Train","e":14,"v":0.83},{"s":"Train","e":15,"v":0.83},{"s":"Train","e":16,"v":0.83},{"s":"Train","e":17,"v":0.9},{"s":"Train","e":18,"v":0.9},{"s":"Train","e":19,"v":0.94},
      {"s":"Train","e":20,"v":0.94},{"s":"Train","e":21,"v":0.99},{"s":"Train","e":22,"v":1.04},{"s":"Train","e":23,"v":1.04},{"s":"Train","e":24,"v":1.1},{"s":"Train","e":25,"v":1.13},{"s":"Train","e":26,"v":1.15},{"s":"Train","e":27,"v":1.18},{"s":"Train","e":28,"v":1.24},{"s":"Train","e":29,"v":1.27},
      {"s":"Train","e":30,"v":1.34},{"s":"Train","e":31,"v":1.37},{"s":"Train","e":32,"v":1.4},{"s":"Train","e":33,"v":1.46},{"s":"Train","e":34,"v":1.54},{"s":"Train","e":35,"v":1.62},{"s":"Train","e":36,"v":1.65},{"s":"Train","e":37,"v":1.84},{"s":"Train","e":38,"v":1.88},{"s":"Train","e":39,"v":2.04},
      {"s":"Train","e":40,"v":2.17},{"s":"Train","e":41,"v":2.2},{"s":"Train","e":42,"v":2.25},{"s":"Train","e":43,"v":2.28},{"s":"Train","e":44,"v":2.39},{"s":"Train","e":45,"v":2.54},{"s":"Train","e":46,"v":2.64},{"s":"Train","e":47,"v":2.7},{"s":"Train","e":48,"v":2.8},{"s":"Train","e":49,"v":2.98},
      {"s":"Train","e":50,"v":3.17},{"s":"Train","e":51,"v":3.38},{"s":"Train","e":52,"v":3.77},{"s":"Train","e":53,"v":4.0},{"s":"Train","e":54,"v":4.24},{"s":"Train","e":55,"v":4.4},{"s":"Train","e":56,"v":4.63},{"s":"Train","e":57,"v":4.9},{"s":"Train","e":58,"v":5.15},{"s":"Train","e":59,"v":5.65},
      {"s":"Train","e":60,"v":5.89},{"s":"Train","e":61,"v":6.28},{"s":"Train","e":62,"v":6.36},{"s":"Train","e":63,"v":6.83},{"s":"Train","e":64,"v":7.3},{"s":"Train","e":65,"v":7.7},{"s":"Train","e":66,"v":8.2},{"s":"Train","e":67,"v":8.7},{"s":"Train","e":68,"v":9.5},{"s":"Train","e":69,"v":9.96},
      {"s":"Train","e":70,"v":10.45},{"s":"Train","e":71,"v":11.1},{"s":"Train","e":72,"v":11.9},{"s":"Train","e":73,"v":12.8},{"s":"Train","e":74,"v":13.55},{"s":"Train","e":75,"v":14.35},{"s":"Train","e":76,"v":15.5},{"s":"Train","e":77,"v":16.7},{"s":"Train","e":78,"v":17.9},{"s":"Train","e":79,"v":19.2},
      {"s":"Train","e":80,"v":20.55},{"s":"Train","e":81,"v":22.0},{"s":"Train","e":82,"v":23.5},{"s":"Train","e":83,"v":25.05},{"s":"Train","e":84,"v":26.4},{"s":"Train","e":85,"v":28.1},{"s":"Train","e":86,"v":30.3},{"s":"Train","e":87,"v":32.3},{"s":"Train","e":88,"v":34.4},{"s":"Train","e":89,"v":36.5},
      {"s":"Train","e":90,"v":38.9},{"s":"Train","e":91,"v":41.4},{"s":"Train","e":92,"v":44.2},{"s":"Train","e":93,"v":47.5},{"s":"Train","e":94,"v":50.8},{"s":"Train","e":95,"v":54.8},{"s":"Train","e":96,"v":59.4},{"s":"Train","e":97,"v":64.6},{"s":"Train","e":98,"v":71.6},{"s":"Train","e":99,"v":81.2},

      {"s":"Typical","e":0,"v":7.6},{"s":"Typical","e":1,"v":14.8},{"s":"Typical","e":2,"v":16.46},{"s":"Typical","e":3,"v":16.46},{"s":"Typical","e":4,"v":16.86},{"s":"Typical","e":5,"v":16.86},{"s":"Typical","e":6,"v":16.86},{"s":"Typical","e":7,"v":16.86},{"s":"Typical","e":8,"v":17.25},{"s":"Typical","e":9,"v":17.65},
      {"s":"Typical","e":10,"v":17.65},{"s":"Typical","e":11,"v":17.65},{"s":"Typical","e":12,"v":17.65},{"s":"Typical","e":13,"v":18.05},{"s":"Typical","e":14,"v":18.44},{"s":"Typical","e":15,"v":19.24},{"s":"Typical","e":16,"v":19.63},{"s":"Typical","e":17,"v":19.63},{"s":"Typical","e":18,"v":19.63},{"s":"Typical","e":19,"v":21.2},
      {"s":"Typical","e":20,"v":22.0},{"s":"Typical","e":21,"v":22.87},{"s":"Typical","e":22,"v":22.87},{"s":"Typical","e":23,"v":23.67},{"s":"Typical","e":24,"v":24.06},{"s":"Typical","e":25,"v":24.06},{"s":"Typical","e":26,"v":24.86},{"s":"Typical","e":27,"v":24.86},{"s":"Typical","e":28,"v":24.86},{"s":"Typical","e":29,"v":29.6},
      {"s":"Typical","e":30,"v":29.6},{"s":"Typical","e":31,"v":32.45},{"s":"Typical","e":32,"v":32.85},{"s":"Typical","e":33,"v":32.85},{"s":"Typical","e":34,"v":33.25},{"s":"Typical","e":35,"v":33.6},{"s":"Typical","e":36,"v":34.4},{"s":"Typical","e":37,"v":35.2},{"s":"Typical","e":38,"v":36.0},{"s":"Typical","e":39,"v":36.8},
      {"s":"Typical","e":40,"v":36.75},{"s":"Typical","e":41,"v":37.2},{"s":"Typical","e":42,"v":37.68},{"s":"Typical","e":43,"v":38.07},{"s":"Typical","e":44,"v":38.07},{"s":"Typical","e":45,"v":40.06},{"s":"Typical","e":46,"v":40.85},{"s":"Typical","e":47,"v":41.64},{"s":"Typical","e":48,"v":43.2},{"s":"Typical","e":49,"v":43.6},
      {"s":"Typical","e":50,"v":43.6},{"s":"Typical","e":51,"v":44.4},{"s":"Typical","e":52,"v":49.6},{"s":"Typical","e":53,"v":53.3},{"s":"Typical","e":54,"v":54.1},{"s":"Typical","e":55,"v":54.5},{"s":"Typical","e":56,"v":54.9},{"s":"Typical","e":57,"v":56.0},{"s":"Typical","e":58,"v":56.4},{"s":"Typical","e":59,"v":61.6},
      {"s":"Typical","e":60,"v":61.6},{"s":"Typical","e":61,"v":62.0},{"s":"Typical","e":62,"v":62.8},{"s":"Typical","e":63,"v":63.2},{"s":"Typical","e":64,"v":64.8},{"s":"Typical","e":65,"v":65.2},{"s":"Typical","e":66,"v":65.6},{"s":"Typical","e":67,"v":66.4},{"s":"Typical","e":68,"v":67.5},{"s":"Typical","e":69,"v":70.0},
      {"s":"Typical","e":70,"v":70.8},{"s":"Typical","e":71,"v":72.4},{"s":"Typical","e":72,"v":74.0},{"s":"Typical","e":73,"v":78.4},{"s":"Typical","e":74,"v":78.4},{"s":"Typical","e":75,"v":84.4},{"s":"Typical","e":76,"v":86.4},{"s":"Typical","e":77,"v":87.6},{"s":"Typical","e":78,"v":88.0},{"s":"Typical","e":79,"v":89.95},
      {"s":"Typical","e":80,"v":91.1},{"s":"Typical","e":81,"v":93.2},{"s":"Typical","e":82,"v":95.2},{"s":"Typical","e":83,"v":96.4},{"s":"Typical","e":84,"v":96.8},{"s":"Typical","e":85,"v":97.2},{"s":"Typical","e":86,"v":98.7},{"s":"Typical","e":87,"v":99.1},{"s":"Typical","e":88,"v":99.1},{"s":"Typical","e":89,"v":99.1},
      {"s":"Typical","e":90,"v":99.1},{"s":"Typical","e":91,"v":99.1},{"s":"Typical","e":92,"v":99.3},{"s":"Typical","e":93,"v":99.4},{"s":"Typical","e":94,"v":99.5},{"s":"Typical","e":95,"v":99.6},{"s":"Typical","e":96,"v":99.7},{"s":"Typical","e":97,"v":99.8},{"s":"Typical","e":98,"v":99.8},{"s":"Typical","e":99,"v":99.8},

      {"s":"Typical [Val]","e":0,"v":9.26},{"s":"Typical [Val]","e":1,"v":18.0},{"s":"Typical [Val]","e":2,"v":19.2},{"s":"Typical [Val]","e":3,"v":19.2},{"s":"Typical [Val]","e":4,"v":19.7},{"s":"Typical [Val]","e":5,"v":20.0},{"s":"Typical [Val]","e":6,"v":20.0},{"s":"Typical [Val]","e":7,"v":20.0},{"s":"Typical [Val]","e":8,"v":20.0},{"s":"Typical [Val]","e":9,"v":20.0},
      {"s":"Typical [Val]","e":10,"v":20.0},{"s":"Typical [Val]","e":11,"v":20.4},{"s":"Typical [Val]","e":12,"v":20.4},{"s":"Typical [Val]","e":13,"v":20.8},{"s":"Typical [Val]","e":14,"v":20.8},{"s":"Typical [Val]","e":15,"v":20.8},{"s":"Typical [Val]","e":16,"v":20.8},{"s":"Typical [Val]","e":17,"v":21.2},{"s":"Typical [Val]","e":18,"v":21.2},{"s":"Typical [Val]","e":19,"v":22.9},
      {"s":"Typical [Val]","e":20,"v":23.3},{"s":"Typical [Val]","e":21,"v":23.3},{"s":"Typical [Val]","e":22,"v":23.3},{"s":"Typical [Val]","e":23,"v":23.3},{"s":"Typical [Val]","e":24,"v":23.3},{"s":"Typical [Val]","e":25,"v":23.3},{"s":"Typical [Val]","e":26,"v":24.85},{"s":"Typical [Val]","e":27,"v":24.85},{"s":"Typical [Val]","e":28,"v":24.85},{"s":"Typical [Val]","e":29,"v":27.2},
      {"s":"Typical [Val]","e":30,"v":27.2},{"s":"Typical [Val]","e":31,"v":30.4},{"s":"Typical [Val]","e":32,"v":30.8},{"s":"Typical [Val]","e":33,"v":31.1},{"s":"Typical [Val]","e":34,"v":31.5},{"s":"Typical [Val]","e":35,"v":32.85},{"s":"Typical [Val]","e":36,"v":34.4},{"s":"Typical [Val]","e":37,"v":36.8},{"s":"Typical [Val]","e":38,"v":37.2},{"s":"Typical [Val]","e":39,"v":39.2},
      {"s":"Typical [Val]","e":40,"v":39.66},{"s":"Typical [Val]","e":41,"v":40.06},{"s":"Typical [Val]","e":42,"v":40.45},{"s":"Typical [Val]","e":43,"v":40.85},{"s":"Typical [Val]","e":44,"v":42.04},{"s":"Typical [Val]","e":45,"v":42.83},{"s":"Typical [Val]","e":46,"v":44.02},{"s":"Typical [Val]","e":47,"v":44.02},{"s":"Typical [Val]","e":48,"v":44.81},{"s":"Typical [Val]","e":49,"v":45.21},
      {"s":"Typical [Val]","e":50,"v":45.21},{"s":"Typical [Val]","e":51,"v":46.4},{"s":"Typical [Val]","e":52,"v":52.4},{"s":"Typical [Val]","e":53,"v":55.1},{"s":"Typical [Val]","e":54,"v":55.1},{"s":"Typical [Val]","e":55,"v":55.5},{"s":"Typical [Val]","e":56,"v":55.5},{"s":"Typical [Val]","e":57,"v":56.8},{"s":"Typical [Val]","e":58,"v":58.0},{"s":"Typical [Val]","e":59,"v":61.2},
      {"s":"Typical [Val]","e":60,"v":62.0},{"s":"Typical [Val]","e":61,"v":62.0},{"s":"Typical [Val]","e":62,"v":62.0},{"s":"Typical [Val]","e":63,"v":64.0},{"s":"Typical [Val]","e":64,"v":64.8},{"s":"Typical [Val]","e":65,"v":64.8},{"s":"Typical [Val]","e":66,"v":64.8},{"s":"Typical [Val]","e":67,"v":66.75},{"s":"Typical [Val]","e":68,"v":68.7},{"s":"Typical [Val]","e":69,"v":71.2},
      {"s":"Typical [Val]","e":70,"v":73.2},{"s":"Typical [Val]","e":71,"v":75.15},{"s":"Typical [Val]","e":72,"v":75.5},{"s":"Typical [Val]","e":73,"v":79.2},{"s":"Typical [Val]","e":74,"v":80.8},{"s":"Typical [Val]","e":75,"v":86.0},{"s":"Typical [Val]","e":76,"v":88.0},{"s":"Typical [Val]","e":77,"v":89.2},{"s":"Typical [Val]","e":78,"v":91.6},{"s":"Typical [Val]","e":79,"v":92.0},
      {"s":"Typical [Val]","e":80,"v":92.0},{"s":"Typical [Val]","e":81,"v":93.2},{"s":"Typical [Val]","e":82,"v":95.2},{"s":"Typical [Val]","e":83,"v":95.6},{"s":"Typical [Val]","e":84,"v":95.6},{"s":"Typical [Val]","e":85,"v":95.6},{"s":"Typical [Val]","e":86,"v":96.8},{"s":"Typical [Val]","e":87,"v":97.2},{"s":"Typical [Val]","e":88,"v":97.6},{"s":"Typical [Val]","e":89,"v":97.95},
      {"s":"Typical [Val]","e":90,"v":98.3},{"s":"Typical [Val]","e":91,"v":98.3},{"s":"Typical [Val]","e":92,"v":99.1},{"s":"Typical [Val]","e":93,"v":99.1},{"s":"Typical [Val]","e":94,"v":99.1},{"s":"Typical [Val]","e":95,"v":99.5},{"s":"Typical [Val]","e":96,"v":99.5},{"s":"Typical [Val]","e":97,"v":99.9},{"s":"Typical [Val]","e":98,"v":99.9},{"s":"Typical [Val]","e":99,"v":99.9}
    ]
  },
  "layer": [
    {
      "mark": {"type": "line", "strokeWidth": 7, "opacity": 0.7, "clip": true},
      "encoding": {
        "x": {
          "field": "e", "type": "quantitative",
          "scale": {"domain": [-4.95, 103.95], "nice": false, "zero": false},
          "axis": {"title": "Number of epochs", "values": [0, 20, 40, 60, 80, 100], "labelPadding": 12, "titlePadding": 18}
        },
        "y": {
          "field": "v", "type": "quantitative",
          "scale": {"domain": [0, 100], "nice": false},
          "axis": {"title": "Fraction of examples learned (%)", "values": [0, 20, 40, 60, 80, 100], "labelPadding": 16, "titlePadding": 14}
        },
        "color": {
          "field": "s", "type": "nominal",
          "scale": {"range": ["#7f7f7f", "#2ca02c", "#1f77b4", "#9467bd", "#ff7f0e", "#d62728", "#e377c2", "#bcbd22", "#8c564b"]},
          "legend": {
            "title": null, "orient": "none", "legendX": 35, "legendY": 35, "direction": "vertical", "columns": 1,
            "symbolType": "stroke", "symbolSize": 19881, "symbolStrokeWidth": 7, "symbolOpacity": 0.7,
            "labelFont": "DejaVu Sans", "labelFontSize": 66, "labelColor": "black", "labelOffset": 41, "labelLimit": 3000,
            "padding": 22, "rowPadding": 34, "clipHeight": 66,
            "strokeColor": "#d0d0d0", "fillColor": "rgba(255,255,255,0.8)", "cornerRadius": 12, "zindex": 1,
            "encode": {"legend": {"update": {"strokeWidth": {"value": 4}}}}
          }
        },
        "strokeDash": {
          "field": "s", "type": "nominal",
          "scale": {"range": [[1, 0], [27, 12], [45, 12, 7, 12], [7, 12], [1, 0], [27, 12], [45, 12, 7, 12], [7, 12], [1, 0]]},
          "legend": {
            "title": null, "orient": "none", "legendX": 35, "legendY": 35, "direction": "vertical", "columns": 1,
            "symbolType": "stroke", "symbolSize": 19881, "symbolStrokeWidth": 7, "symbolOpacity": 0.7,
            "labelFont": "DejaVu Sans", "labelFontSize": 66, "labelColor": "black", "labelOffset": 41, "labelLimit": 3000,
            "padding": 22, "rowPadding": 34, "clipHeight": 66,
            "strokeColor": "#d0d0d0", "fillColor": "rgba(255,255,255,0.8)", "cornerRadius": 12, "zindex": 1,
            "encode": {"legend": {"update": {"strokeWidth": {"value": 4}}}}
          }
        }
      }
    },
    {
      "mark": {"type": "point", "filled": true, "size": 900, "stroke": "#222222", "strokeWidth": 3, "fillOpacity": 0.85, "strokeOpacity": 0.85, "clip": true},
      "encoding": {
        "x": {"field": "e", "type": "quantitative"},
        "y": {"field": "v", "type": "quantitative"},
        "fill": {
          "field": "s", "type": "nominal",
          "scale": {
            "domain": ["Atypical", "Atypical [Val]", "Corrupted", "Corrupted [Val]", "Random Outputs", "Random Outputs [Val]", "Train", "Typical", "Typical [Val]"],
            "range": ["#7f7f7f", "#2ca02c", "#1f77b4", "#9467bd", "#ff7f0e", "#d62728", "#e377c2", "#bcbd22", "#8c564b"]
          },
          "legend": {
            "title": null, "orient": "none", "legendX": 35, "legendY": 35, "direction": "vertical", "columns": 1,
            "symbolSize": 900, "symbolStrokeWidth": 3, "symbolStrokeColor": "#222222", "symbolOpacity": 0.85, "symbolOffset": 41,
            "labelFont": "DejaVu Sans", "labelFontSize": 66, "labelExpr": "''", "labelOffset": 41, "labelLimit": 3000,
            "padding": 22, "rowPadding": 34, "clipHeight": 66, "zindex": 2
          }
        },
        "shape": {
          "field": "s", "type": "nominal",
          "scale": {
            "domain": ["Atypical", "Atypical [Val]", "Corrupted", "Corrupted [Val]", "Random Outputs", "Random Outputs [Val]", "Train", "Typical", "Typical [Val]"],
            "range": [
              "circle",
              "M0,-1L0.2245,-0.309L0.951,-0.309L0.363,0.118L0.588,0.809L0,0.382L-0.588,0.809L-0.363,0.118L-0.951,-0.309L-0.2245,-0.309Z",
              "M0.471,-0.943L0.943,-0.471L0.471,0L0.943,0.471L0.471,0.943L0,0.471L-0.471,0.943L-0.943,0.471L-0.471,0L-0.943,-0.471L-0.471,-0.943L0,-0.471Z",
              "M-0.333,-1L0.333,-1L0.333,-0.333L1,-0.333L1,0.333L0.333,0.333L0.333,1L-0.333,1L-0.333,0.333L-1,0.333L-1,-0.333L-0.333,-0.333Z",
              "M0,-1L0.951,-0.309L0.588,0.809L-0.588,0.809L-0.951,-0.309Z",
              "M0,-1.3L1.3,0L0,1.3L-1.3,0Z",
              "M-1,-1L1,-1L0,1Z",
              "M0,-1L1,1L-1,1Z",
              "M0,-1L0.866,-0.5L0.866,0.5L0,1L-0.866,0.5L-0.866,-0.5Z"
            ]
          },
          "legend": {
            "title": null, "orient": "none", "legendX": 35, "legendY": 35, "direction": "vertical", "columns": 1,
            "symbolSize": 900, "symbolStrokeWidth": 3, "symbolStrokeColor": "#222222", "symbolOpacity": 0.85, "symbolOffset": 41,
            "labelFont": "DejaVu Sans", "labelFontSize": 66, "labelExpr": "''", "labelOffset": 41, "labelLimit": 3000,
            "padding": 22, "rowPadding": 34, "clipHeight": 66, "zindex": 2
          }
        }
      }
    }
  ]
}
